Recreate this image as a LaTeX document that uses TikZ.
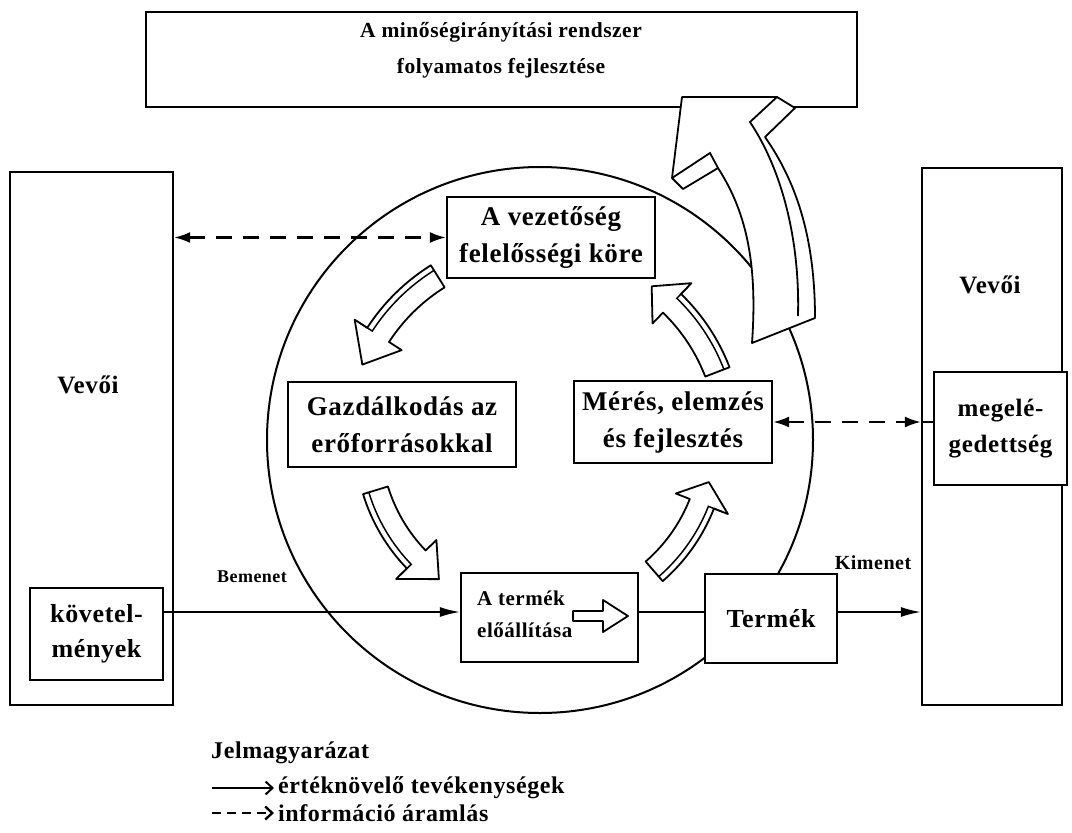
\documentclass[tikz,border=0pt]{standalone}
\usepackage{fontspec}
\setmainfont{Liberation Serif}[LetterSpace=2.5]
\usetikzlibrary{arrows.meta}

\newcommand{\ringarrow}[4]{%
\begin{scope}[shift={(540,440)},yscale=-1]
\draw[hollow] (#1:#4+13) arc[start angle=#1, end angle=#2, radius=#4+13] -- (#2:#4+28) -- (#3:#4) -- (#2:#4-28) -- (#2:#4-13) arc[start angle=#2, end angle=#1, radius=#4-13] -- cycle;
\draw[line width=1.5pt] (#1:#4+7) arc[start angle=#1, end angle=#2, radius=#4+7] -- (#2:#4+22);
\end{scope}}

\begin{document}
\begin{tikzpicture}[x=1pt, y=-1pt,
  box/.style={draw, line width=2.2pt, fill=white, inner sep=2pt, align=center, font=\bfseries\fontsize{27}{37}\selectfont},
  bigbox/.style={draw, line width=2.2pt, inner sep=0pt},
  lbl/.style={font=\bfseries\fontsize{18}{22}\selectfont, inner sep=0pt},
  hollow/.style={draw, line width=1.8pt, fill=white, line join=round},
  flow/.style={line width=1.8pt, -{Latex[length=20pt, width=10pt]}},
  info/.style={line width=2.4pt, dash pattern=on 16pt off 11pt, {Latex[length=16pt, width=11pt]}-{Latex[length=16pt, width=11pt]}}]

\useasboundingbox (0,0) rectangle (1072,833);

\node[bigbox, minimum width=711, minimum height=95] (improve) at (501.5,59.5) {};
\node[lbl, font=\bfseries\fontsize{21.5}{36}\selectfont, align=center] (improvetxt) at (501,50) {A minőségirányítási rendszer\\folyamatos fejlesztése};

\node[bigbox, minimum width=163, minimum height=533] (lcust) at (91.5,438.5) {};
\node[bigbox, minimum width=140, minimum height=537] (rcust) at (992,436.5) {};
\node[lbl, font=\bfseries\fontsize{25}{30}\selectfont] (lcusttxt) at (88,385) {Vevői};
\node[lbl, font=\bfseries\fontsize{25}{30}\selectfont] (rcusttxt) at (990,285) {Vevői};

\draw[line width=2pt] (540,440) circle[radius=273];

\draw[hollow] (752,343) -- (815,318) .. controls (815,235) and (795,180) .. (765,137) -- (795,108) -- (777,97) -- (682,97) -- (672,178) -- (683,189) -- (718,168) .. controls (745,210) and (758,260) .. (752,343) -- cycle;
\draw[line width=1.8pt] (777,97) -- (750,122) .. controls (782,170) and (800,240) .. (798,316);
\draw[line width=1.8pt] (672,178) -- (710,153) -- (718,168);

\node[box, minimum width=208, minimum height=81] (mgmt) at (551,237.5) {A vezetőség\\felelősségi köre};
\node[box, minimum width=228, minimum height=85] (res) at (402,424.5) {Gazdálkodás az\\erőforrásokkal};
\node[box, minimum width=198, minimum height=82] (meas) at (673,422) {Mérés, elemzés\\és fejlesztés};
\node[box, minimum width=133, minimum height=113, font=\bfseries\fontsize{25}{36}\selectfont] (sat) at (1000.5,428.5) {megelé-\\gedettség};
\node[box, minimum width=133, minimum height=92, font=\bfseries\fontsize{26}{35}\selectfont] (req) at (96.5,634) {követel-\\mények};
\node[box, minimum width=177, minimum height=89] (prod) at (549.5,617.5) {};
\node[box, minimum width=132, minimum height=89, font=\bfseries\fontsize{26}{30}\selectfont] (out) at (771,618.5) {Termék};

\node[lbl, font=\bfseries\fontsize{21}{32}\selectfont, anchor=west, align=left] (prodtxt) at (477,614) {A termék\\előállítása};
\draw[hollow] (573,611) -- (603,611) -- (603,600) -- (628,616) -- (603,632) -- (603,621) -- (573,621) -- cycle;

\coordinate (ln) at (300,612);
\draw[flow] (req.east |- ln) -- (prod.west |- ln);
\draw[line width=1.8pt] (prod.east |- ln) -- (out.west |- ln);
\draw[flow] (out.east |- ln) -- (rcust.west |- ln);
\draw[info] (lcust.east |- mgmt.west) -- (mgmt.west);
\draw[info] (meas.east) -- (rcust.west |- meas.east);
\draw[line width=1.8pt] (rcust.west |- meas.east) -- (sat.west |- meas.east);

\node[lbl] (inlbl) at (252,577) {Bemenet};
\node[lbl, font=\bfseries\fontsize{20}{24}\selectfont] (outlbl) at (873,563) {Kimenet};

\ringarrow{122}{147}{157}{193}
\ringarrow{21}{46}{54}{190}
\ringarrow{197}{224}{234}{172}
\ringarrow{-49}{-21.5}{-14}{174}

\node[lbl, font=\bfseries\fontsize{24}{28}\selectfont, anchor=west] (legend) at (211,753) {Jelmagyarázat};
\node[lbl, font=\bfseries\fontsize{24}{28}\selectfont, anchor=west] (keyflow) at (278,788) {értéknövelő tevékenységek};
\node[lbl, font=\bfseries\fontsize{24}{28}\selectfont, anchor=west] (keyinfo) at (278,813) {információ áramlás};
\coordinate (keyflowstart) at (212,788);
\coordinate (keyinfostart) at (212,813);
\draw[line width=2pt, -{Straight Barb[length=7pt, width=13pt]}] (keyflowstart) -- ([xshift=-4pt]keyflow.west);
\draw[line width=2.4pt, dash pattern=on 9pt off 6pt, -{Straight Barb[length=7pt, width=13pt]}] (keyinfostart) -- ([xshift=-4pt]keyinfo.west);

\end{tikzpicture}
\end{document}
